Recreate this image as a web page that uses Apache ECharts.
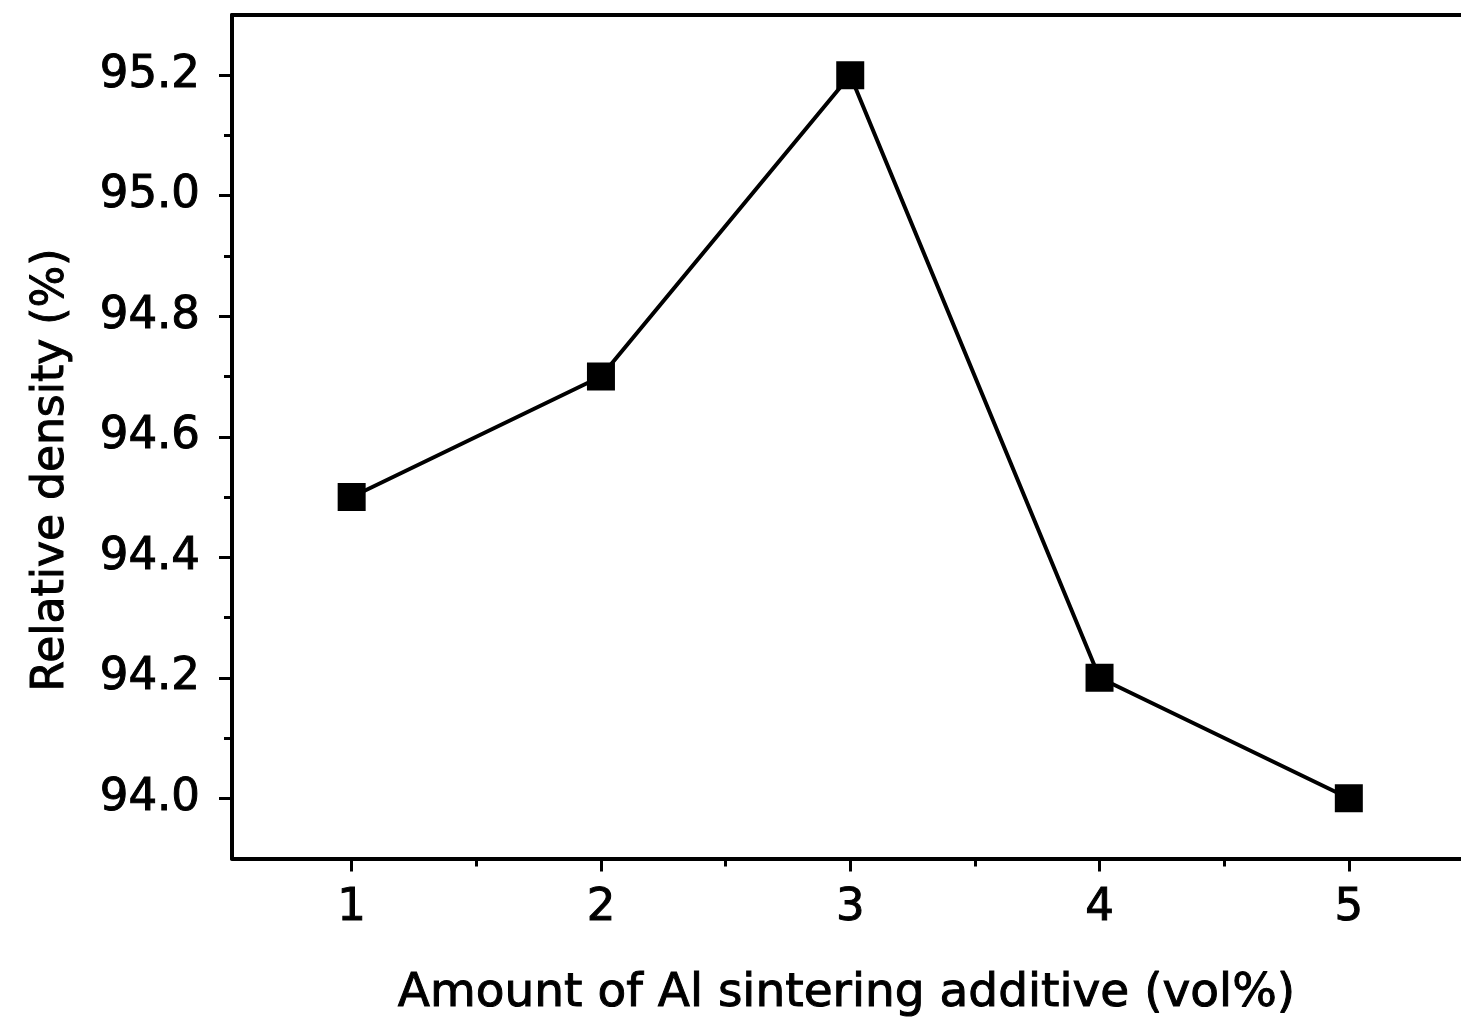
<!DOCTYPE html>
<html>
<head>
<meta charset="utf-8">
<script src="https://cdn.jsdelivr.net/npm/echarts@6/dist/echarts.min.js"></script>
<style>
  html, body { margin: 0; padding: 0; background: #fff; }
  #chart { width: 1461px; height: 1023px; }
</style>
</head>
<body>
<div id="chart"></div>
<script>
// Relative density vs. Al sintering additive content
const additiveVol = [1, 2, 3, 4, 5];
const relativeDensity = [94.5, 94.7, 95.2, 94.2, 94.0];

const xTickValues = [1, 2, 3, 4, 5];
const xMinorTickValues = [1.5, 2.5, 3.5, 4.5];
const yTickValues = [94.0, 94.2, 94.4, 94.6, 94.8, 95.0, 95.2];
const yMinorTickValues = [94.1, 94.3, 94.5, 94.7, 94.9, 95.1];

const xTitle = 'Amount of Al sintering additive (vol%)';
const yTitle = 'Relative density (%)';

const X_MIN = 0.52, X_MAX = 5.45;
const Y_MIN = 93.9, Y_MAX = 95.3;

const FONT = '"DejaVu Sans", "Liberation Sans", sans-serif';
const INK = '#000';

const chart = echarts.init(document.getElementById('chart'), null, { renderer: 'canvas' });

const baseLine = { show: true, lineStyle: { color: INK, width: 4 } };
const textInk = { fontFamily: FONT, color: INK, textBorderColor: INK, textBorderWidth: 1 };

chart.setOption({
  backgroundColor: '#fff',
  animation: false,
  grid: { left: 232, right: 0, top: 15, bottom: 163, containLabel: false },
  xAxis: [
    {
      type: 'value', position: 'bottom', min: X_MIN, max: X_MAX,
      axisLine: baseLine,
      axisTick: { show: true, inside: false, length: 13, customValues: xTickValues,
                  lineStyle: { color: INK, width: 3 } },
      axisLabel: Object.assign({ show: true, customValues: xTickValues, margin: 27,
                   fontSize: 45, formatter: v => String(Math.round(v)) }, textInk),
      splitLine: { show: false },
      name: xTitle, nameLocation: 'middle', nameGap: 112,
      nameTextStyle: Object.assign({ fontSize: 47 }, textInk)
    },
    {
      type: 'value', position: 'bottom', min: X_MIN, max: X_MAX,
      axisLine: { show: false },
      axisTick: { show: true, inside: false, length: 8, customValues: xMinorTickValues,
                  lineStyle: { color: INK, width: 3 } },
      axisLabel: { show: false },
      splitLine: { show: false }
    },
    {
      type: 'value', position: 'top', min: X_MIN, max: X_MAX,
      axisLine: baseLine,
      axisTick: { show: false },
      axisLabel: { show: false },
      splitLine: { show: false }
    }
  ],
  yAxis: [
    {
      type: 'value', position: 'left', min: Y_MIN, max: Y_MAX,
      axisLine: baseLine,
      axisTick: { show: true, inside: false, length: 13, customValues: yTickValues,
                  lineStyle: { color: INK, width: 3 } },
      axisLabel: Object.assign({ show: true, customValues: yTickValues, margin: 32,
                   fontSize: 45, formatter: v => v.toFixed(1) }, textInk),
      splitLine: { show: false }
    },
    {
      type: 'value', position: 'left', min: Y_MIN, max: Y_MAX,
      axisLine: { show: false },
      axisTick: { show: true, inside: false, length: 8, customValues: yMinorTickValues,
                  lineStyle: { color: INK, width: 3 } },
      axisLabel: { show: false },
      splitLine: { show: false }
    }
  ],
  graphic: [
    {
      type: 'text',
      x: 52, y: 470,
      rotation: Math.PI / 2,
      style: {
        text: yTitle, fontFamily: FONT, fontSize: 44,
        align: 'center', verticalAlign: 'middle',
        fill: INK, stroke: INK, lineWidth: 1
      }
    }
  ],
  series: [
    {
      type: 'line',
      xAxisIndex: 0, yAxisIndex: 0,
      data: additiveVol.map((x, i) => [x, relativeDensity[i]]),
      symbol: 'rect', symbolSize: 28,
      lineStyle: { color: INK, width: 4 },
      itemStyle: { color: INK },
      z: 5
    }
  ]
});
</script>
</body>
</html>
